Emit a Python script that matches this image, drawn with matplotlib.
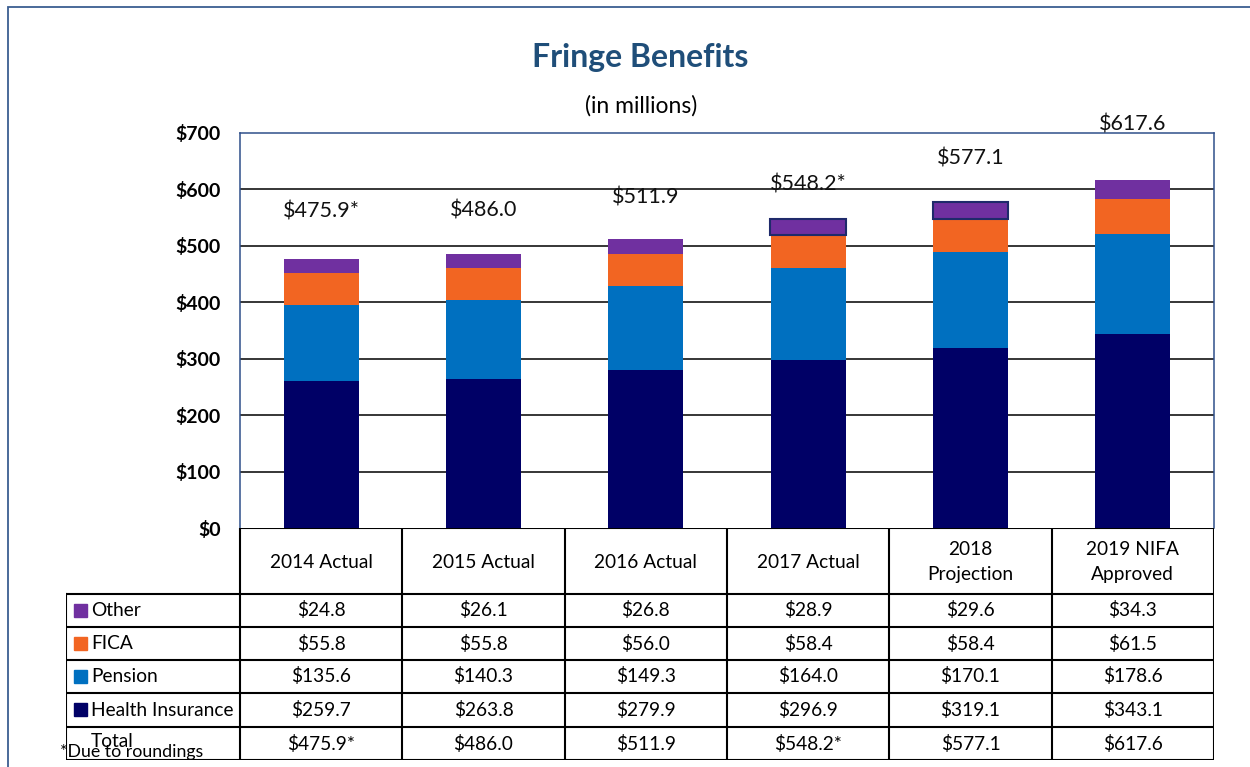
import matplotlib
matplotlib.use("Agg")
import matplotlib.pyplot as plt
from matplotlib.patches import Rectangle
import numpy as np

categories = ["2014 Actual", "2015 Actual", "2016 Actual", "2017 Actual",
              "2018\nProjection", "2019 NIFA\nApproved"]
series_names = ["Other", "FICA", "Pension", "Health Insurance"]
health = [259.7, 263.8, 279.9, 296.9, 319.1, 343.1]
pension = [135.6, 140.3, 149.3, 164.0, 170.1, 178.6]
fica = [55.8, 55.8, 56.0, 58.4, 58.4, 61.5]
other = [24.8, 26.1, 26.8, 28.9, 29.6, 34.3]
totals = [475.9, 486.0, 511.9, 548.2, 577.1, 617.6]
total_labels = ["$475.9*", "$486.0", "$511.9", "$548.2*", "$577.1", "$617.6"]
yticks = [0, 100, 200, 300, 400, 500, 600, 700]

colors = {"Health Insurance": "#000066", "Pension": "#0070C0",
          "FICA": "#F26522", "Other": "#7030A0"}
label_offsets_px = [48, 43, 42, 34, 44, 55]
outlined = [False, False, False, True, True, False]

plt.rcParams['font.family'] = ['Lato', 'DejaVu Sans']

W, H = 1250, 767
fig = plt.figure(figsize=(W / 100, H / 100), dpi=100)

def fx(px):
    return px / W

def fy(py):
    return 1 - py / H

# outer frame
fig.patches.append(Rectangle((fx(8), fy(800)), fx(1300), fy(7) - fy(800),
                             transform=fig.transFigure, fill=False,
                             edgecolor="#3B5E91", linewidth=1.3))

L, R, T, B = 240, 1214, 133, 528
ax = fig.add_axes([fx(L), fy(B), fx(R - L), fy(T) - fy(B)])
x = np.arange(len(categories))
bw = 0.46
bottom = np.zeros(len(categories))
for name, vals in [("Health Insurance", health), ("Pension", pension),
                   ("FICA", fica), ("Other", other)]:
    ax.bar(x, vals, bw, bottom=bottom, color=colors[name], linewidth=0, zorder=3)
    bottom = bottom + np.array(vals)

# outlined "Other" segments
for i in range(len(categories)):
    if outlined[i]:
        ax.bar(x[i], other[i], bw * 1.01, bottom=bottom[i] - other[i],
               color=colors["Other"], edgecolor="#1F2A6B", linewidth=1.5, zorder=4)

for i, lab in enumerate(total_labels):
    ax.annotate(lab, (x[i], totals[i]), xytext=(0, label_offsets_px[i] * 0.72),
                textcoords="offset points", ha="center", va="center",
                fontsize=15.5, color="#111111", annotation_clip=False, zorder=5)

ax.set_xlim(-0.5, len(categories) - 0.5)
ax.set_ylim(0, 700)
ax.set_yticks(yticks)
ax.set_yticklabels([f"${v}" for v in yticks], fontweight="bold", fontsize=14)
ax.tick_params(axis="y", length=0, pad=14)
ax.set_xticks([])
for v in yticks[1:-1]:
    ax.axhline(v, color="black", linewidth=1.1, zorder=1)
for s in ["left", "top", "right"]:
    ax.spines[s].set_color("#2F4F8A")
    ax.spines[s].set_linewidth(1.1)
ax.spines["bottom"].set_visible(False)

# Table
TL, TB = 66, 760
tax = fig.add_axes([fx(TL), fy(TB), fx(R - TL), fy(B) - fy(TB)])
tax.set_xlim(TL, R)
tax.set_ylim(TB, B)
tax.axis("off")
colw = (R - L) / len(categories)
col_edges = [L + colw * i for i in range(len(categories) + 1)]
row_edges = [528, 594, 627, 660, 693, 727, 760]
lw = 1.5
tax.plot([L, R], [row_edges[0]] * 2, color="black", lw=lw, solid_capstyle="butt")
for r in row_edges[1:]:
    tax.plot([TL, R], [r, r], color="black", lw=lw)
tax.plot([TL, TL], [row_edges[1], row_edges[-1]], color="black", lw=lw)
for c in col_edges:
    tax.plot([c, c], [row_edges[0], row_edges[-1]], color="black", lw=lw)

fs = 13.8
for i, cat in enumerate(categories):
    cx = (col_edges[i] + col_edges[i + 1]) / 2
    tax.text(cx, (row_edges[0] + row_edges[1]) / 2 + 1, cat, ha="center", va="center",
             fontsize=fs, linespacing=1.6)

rows = [("Other", other), ("FICA", fica), ("Pension", pension),
        ("Health Insurance", health)]
for j, (name, vals) in enumerate(rows):
    y0, y1 = row_edges[j + 1], row_edges[j + 2]
    yc = (y0 + y1) / 2
    tax.add_patch(Rectangle((74, yc - 7), 13, 13, color=colors[name]))
    tax.text(91, yc, name, ha="left", va="center", fontsize=fs)
    for i, v in enumerate(vals):
        cx = (col_edges[i] + col_edges[i + 1]) / 2
        tax.text(cx, yc, f"${v:.1f}", ha="center", va="center", fontsize=fs)
yc = (row_edges[5] + row_edges[6]) / 2
tax.text(91, yc - 2, "Total", ha="left", va="center", fontsize=fs)
for i, lab in enumerate(total_labels):
    cx = (col_edges[i] + col_edges[i + 1]) / 2
    tax.text(cx, yc, lab, ha="center", va="center", fontsize=fs)

fig.text(fx(60), fy(752), "*Due to roundings", ha="left", va="center", fontsize=12.8)

fig.text(fx(640), fy(58), "Fringe Benefits", ha="center", va="center",
         fontsize=23, fontweight="bold", color="#1F4E79")
fig.text(fx(641), fy(106), "(in millions)", ha="center", va="center", fontsize=16.5)

fig.savefig("out.png", dpi=100)
